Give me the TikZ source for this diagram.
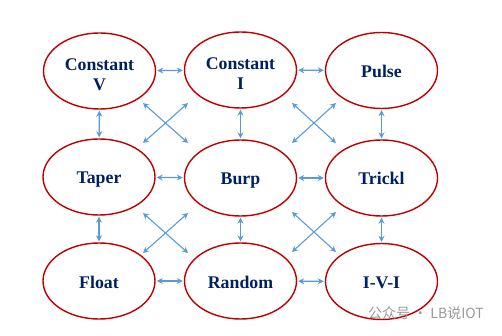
\documentclass[tikz,border=0pt]{standalone}
\usepackage{fontspec}
\setmainfont{Liberation Serif}
\newfontfamily\cjkfont{Noto Sans CJK SC}
\usetikzlibrary{shapes.geometric,arrows.meta}
\definecolor{ered}{RGB}{192,0,0}
\definecolor{enavy}{RGB}{0,32,96}
\definecolor{ablue}{RGB}{91,155,213}
\tikzset{
  state/.style={ellipse,draw=ered,line width=1.4pt,minimum width=112pt,minimum height=76pt,
    inner sep=0pt},
  statetext/.style={text=enavy,font=\fontsize{17.8}{20}\selectfont\bfseries,align=center,yshift=-4pt,inner sep=0pt},
  onetext/.style={text=enavy,font=\fontsize{17.8}{20}\selectfont\bfseries,text height=12pt,text depth=4pt,yshift=-3pt,inner sep=0pt},
  tip/.tip={Stealth[length=6pt,width=6pt]},
  link/.style={draw=ablue,line width=1.1pt,tip-tip,shorten >=1pt,shorten <=1pt},
  cross/.style={draw=ablue,line width=1.1pt,tip-tip}
}
\begin{document}
\begin{tikzpicture}[x=1pt,y=-1pt]
\useasboundingbox (0,0) rectangle (502,336);
% nodes
\node[state,label={[statetext]center:{Constant\\V}}] (cv) at (99.5,71) {};
\node[state,label={[statetext]center:{Constant\\I}}] (ci) at (240.5,70) {};
\node[state,label={[onetext]center:Pulse}] (pu) at (381.5,70.5) {};
\node[state,label={[onetext]center:Taper}] (ta) at (99,177) {};
\node[state,label={[onetext]center:Burp}] (bu) at (240.5,178) {};
\node[state,label={[onetext]center:Trickl}] (tr) at (381.5,178) {};
\node[state,label={[onetext]center:Float}] (fl) at (99,281) {};
\node[state,label={[onetext]center:Random}] (ra) at (240.5,281) {};
\node[state,label={[onetext]center:I-V-I}] (iv) at (381.5,281.5) {};
% horizontal links
\draw[link] (cv) -- (ci);
\draw[link] (ci) -- (pu);
\draw[link] (ta) -- (bu);
\draw[link] (bu) -- (tr);
\draw[link] (fl) -- (ra);
\draw[link] (ra) -- (iv);
% vertical links
\draw[link] (cv) -- (ta);
\draw[link] (ci) -- (bu);
\draw[link] (pu) -- (tr);
\draw[link] (ta) -- (fl);
\draw[link] (bu) -- (ra);
\draw[link] (tr) -- (iv);
% diagonal crosses
\coordinate (a1) at (143,103); \coordinate (a2) at (188,143);
\coordinate (a3) at (188,103); \coordinate (a4) at (143,143);
\coordinate (b1) at (292,103); \coordinate (b2) at (336,143);
\coordinate (b3) at (336,103); \coordinate (b4) at (292,143);
\coordinate (c1) at (143,213); \coordinate (c2) at (188,253);
\coordinate (c3) at (188,213); \coordinate (c4) at (143,253);
\coordinate (d1) at (292,212); \coordinate (d2) at (336,252);
\coordinate (d3) at (336,212); \coordinate (d4) at (292,252);
\draw[cross] (a1) -- (a2); \draw[cross] (a3) -- (a4);
\draw[cross] (b1) -- (b2); \draw[cross] (b3) -- (b4);
\draw[cross] (c1) -- (c2); \draw[cross] (c3) -- (c4);
\draw[cross] (d1) -- (d2); \draw[cross] (d3) -- (d4);
% watermark
\node[anchor=west,text=black!40,font=\cjkfont\fontsize{14}{16}\selectfont,inner sep=0pt] (wm) at (368,313) {公众号 · LB说IOT};
\end{tikzpicture}
\end{document}
